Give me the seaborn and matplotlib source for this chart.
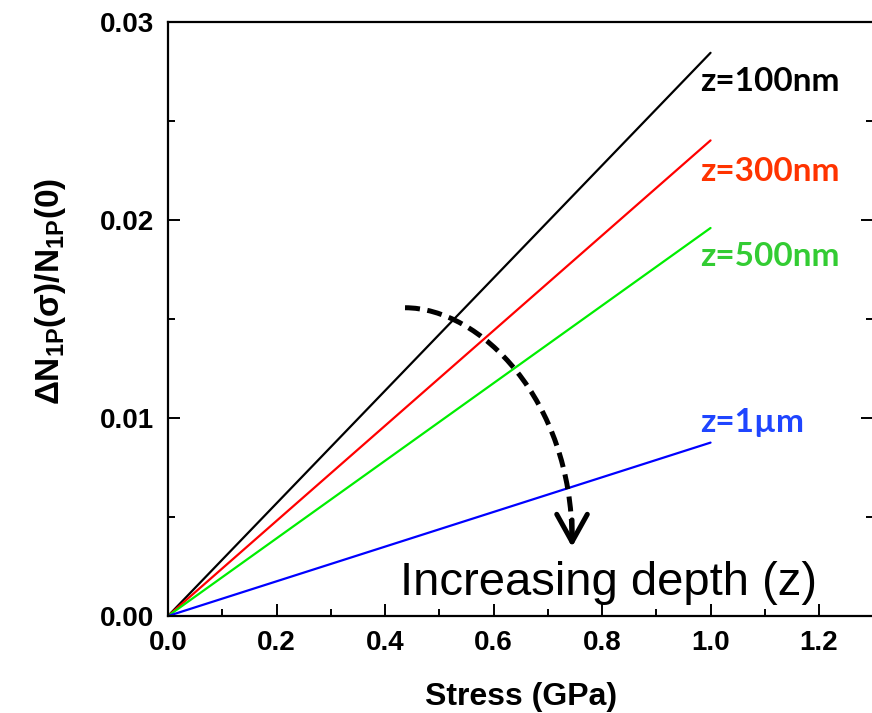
import numpy as np
import pandas as pd
import matplotlib
matplotlib.use("Agg")
import matplotlib.pyplot as plt
from matplotlib.path import Path
from matplotlib.patches import PathPatch
from matplotlib.ticker import MultipleLocator, FormatStrFormatter
import seaborn as sns

# ---- data ----
stress = [0.0, 1.0]                      # GPa
depths = ["z=100nm", "z=300nm", "z=500nm", "z=1\u00b5m"]
dn_100nm = [0.0, 0.02842]
dn_300nm = [0.0, 0.02400]
dn_500nm = [0.0, 0.01958]
dn_1um = [0.0, 0.00875]
line_colors = ["#000000", "#ff0000", "#00ee00", "#0000ff"]
text_colors = ["#000000", "#ff3300", "#33cc33", "#1f45ff"]
label_y = [0.02648, 0.02193, 0.01764, 0.00928]
x_ticks = [0.0, 0.2, 0.4, 0.6, 0.8, 1.0, 1.2]
y_ticks = [0.00, 0.01, 0.02, 0.03]

series = [dn_100nm, dn_300nm, dn_500nm, dn_1um]
df = pd.DataFrame({
    "Stress": np.concatenate([stress] * len(depths)),
    "dN": np.concatenate(series),
    "depth": np.repeat(depths, len(stress)),
})

sns.set_theme(style="ticks")
plt.rcParams["font.family"] = ["Liberation Sans", "DejaVu Sans"]
plt.rcParams["mathtext.fontset"] = "custom"
plt.rcParams["mathtext.rm"] = "Liberation Sans"
plt.rcParams["mathtext.bf"] = "Liberation Sans:bold"
plt.rcParams["mathtext.it"] = "Liberation Sans:italic"
plt.rcParams["text.color"] = "black"
plt.rcParams["axes.labelcolor"] = "black"
plt.rcParams["xtick.color"] = "black"
plt.rcParams["ytick.color"] = "black"

fig = plt.figure(figsize=(8.72, 7.13), dpi=100)
fig.patch.set_facecolor("white")
W, H = 872.0, 713.0
ax = fig.add_axes([168 / W, (H - 616) / H, (873.3 - 168) / W, (616 - 21.5) / H])
ax.set_facecolor("white")

sns.lineplot(data=df, x="Stress", y="dN", hue="depth", palette=dict(zip(depths, line_colors)),
             hue_order=depths, linewidth=1.6, legend=False, ax=ax)

ax.set_xlim(0, 1.3)
ax.set_ylim(0, 0.03)
ax.set_xticks(x_ticks)
ax.set_yticks(y_ticks)
ax.xaxis.set_major_formatter(FormatStrFormatter("%.1f"))
ax.yaxis.set_major_formatter(FormatStrFormatter("%.2f"))
ax.xaxis.set_minor_locator(MultipleLocator(0.1))
ax.yaxis.set_minor_locator(MultipleLocator(0.005))
ax.tick_params(axis="both", which="major", direction="in", length=8.5, width=1.4,
               labelsize=20, pad=10, right=True, top=False, colors="black")
ax.tick_params(axis="both", which="minor", direction="in", length=5, width=1.4,
               right=True, top=False, colors="black")
for lab in ax.get_xticklabels() + ax.get_yticklabels():
    lab.set_fontweight("bold")
for s in ax.spines.values():
    s.set_linewidth(1.6)
    s.set_color("black")

ax.set_xlabel("Stress (GPa)", fontsize=23, fontweight="bold", labelpad=19, color="black")
ax.set_ylabel(r"$\mathbf{\Delta N_{1P}(\sigma)/N_{1P}(0)}$", fontsize=24, color="black")
ax.yaxis.set_label_coords((68 - 168) / 705.3, (616 - 291) / 594.5)

for name, col, yy in zip(depths, text_colors, label_y):
    ax.text(0.98, yy, name, color=col, fontsize=24, fontweight="bold",
            family=["Lato", "DejaVu Sans"], ha="left", va="baseline")

ax.text(0.4276, 0.00106, "Increasing depth (z)", fontsize=34, ha="left", va="baseline",
        color="black")

# curved dashed arrow (pixel positions converted to data coords)
def px2data(px, py):
    return ((px - 168) / 542.5, (616 - py) / 19800.0)

p0 = px2data(405, 308)
c1 = px2data(480, 308)
c2 = px2data(572, 400)
p3 = px2data(572, 540)
path = Path([p0, c1, c2, p3], [Path.MOVETO, Path.CURVE4, Path.CURVE4, Path.CURVE4])
ax.add_patch(PathPatch(path, facecolor="none", edgecolor="black", lw=3.6,
                       linestyle=(0, (3.0, 1.5)), capstyle="butt", zorder=5))
tip = px2data(572, 547)
tail = px2data(572, 520)
ax.annotate("", xy=tip, xytext=tail,
            arrowprops=dict(arrowstyle="->,head_length=0.9,head_width=0.5",
                            lw=3.6, color="black", shrinkA=0, shrinkB=0,
                            mutation_scale=22), zorder=6)

fig.savefig("out.png", dpi=100, facecolor="white")
